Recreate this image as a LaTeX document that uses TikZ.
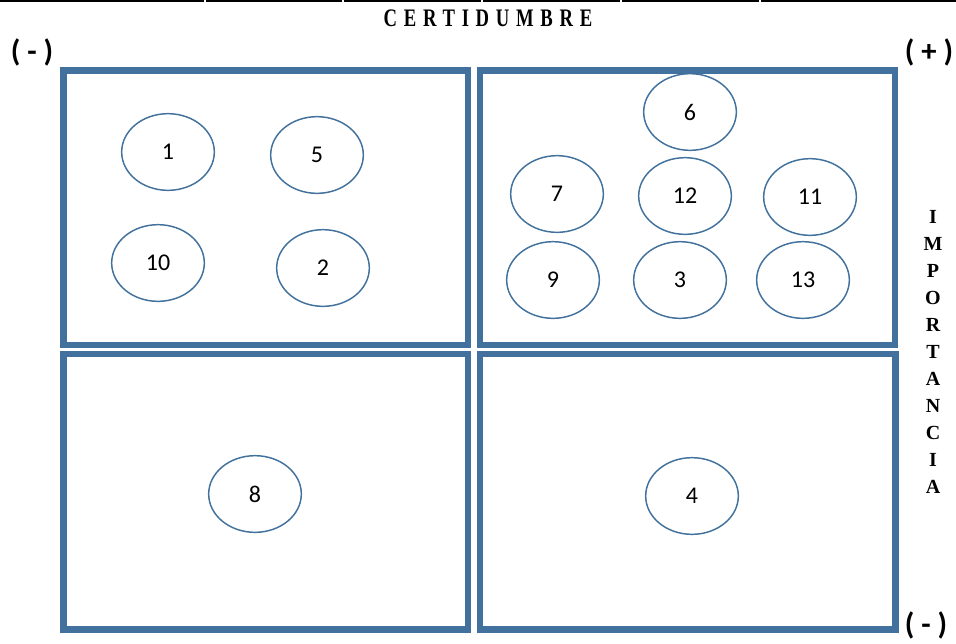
\documentclass[tikz,border=0pt]{standalone}
\usepackage{fontspec}
\setmainfont{Liberation Serif}
\newfontfamily\cifras{Carlito}
\newfontfamily\titulo[LetterSpace=36]{Liberation Serif}
\usetikzlibrary{shapes.geometric, positioning}
\definecolor{azul}{RGB}{65, 113, 156}

\tikzset{
  cuadro/.style={draw=azul, line width=4.9pt},
  ovalo/.style={ellipse, draw=azul, line width=1.1pt, minimum width=69.5pt, minimum height=57.5pt, inner sep=0pt, font=\cifras\fontsize{18}{18}\selectfont},
  signo/.style={font=\cifras\bfseries\fontsize{23}{23}\selectfont},
  eje/.style={font=\bfseries\fontsize{15}{20.2}\selectfont, align=center}
}

\begin{document}
\begin{tikzpicture}[x=0.75pt, y=-0.75pt]
    \useasboundingbox (0,0) rectangle (956,643);

    % Linea superior (bordes de tabla)
    \foreach \a/\b in {0/204, 206/342, 344/481, 483/620, 622/759, 761/956}
        \draw[black, line width=1.5pt] (\a,1) -- (\b,1);

    % Titulos de los ejes
    \node[font=\titulo\bfseries\fontsize{14}{14}\selectfont] (cert) at (488,18) {\scalebox{1}[1.35]{CERTIDUMBRE}};
    \node[eje] (imp) at (933,352) {I\\M\\P\\O\\R\\T\\A\\N\\C\\I\\A};

    % Signos
    \node[signo] (menosA) at (32,52) {( - )};
    \node[signo] (mas) at (929,52) {( + )};
    \node[signo] (menosB) at (926,625) {( - )};

    % Cuadrantes
    \draw[cuadro] (63.5,70.5) rectangle (468,345);
    \draw[cuadro] (480,70.5) rectangle (895,345);
    \draw[cuadro] (63.5,354) rectangle (468,629.5);
    \draw[cuadro] (480,354) rectangle (895.5,629.5);

    % Cuadrante superior izquierdo
    \node[ovalo] (n1) at (168,152) {1};
    \node[ovalo] (n5) at (317,155) {5};
    \node[ovalo] (n10) at (158,263) {10};
    \node[ovalo] (n2) at (323,268) {2};

    % Cuadrante superior derecho
    \node[ovalo] (n6) at (690,112) {6};
    \node[ovalo] (n7) at (557,194) {7};
    \node[ovalo] (n12) at (685,196) {12};
    \node[ovalo] (n11) at (810,197) {11};
    \node[ovalo] (n9) at (553,280) {9};
    \node[ovalo] (n3) at (680,280) {3};
    \node[ovalo] (n13) at (803,280) {13};

    % Cuadrantes inferiores
    \node[ovalo] (n8) at (255,494) {8};
    \node[ovalo] (n4) at (692,496) {4};
\end{tikzpicture}
\end{document}
